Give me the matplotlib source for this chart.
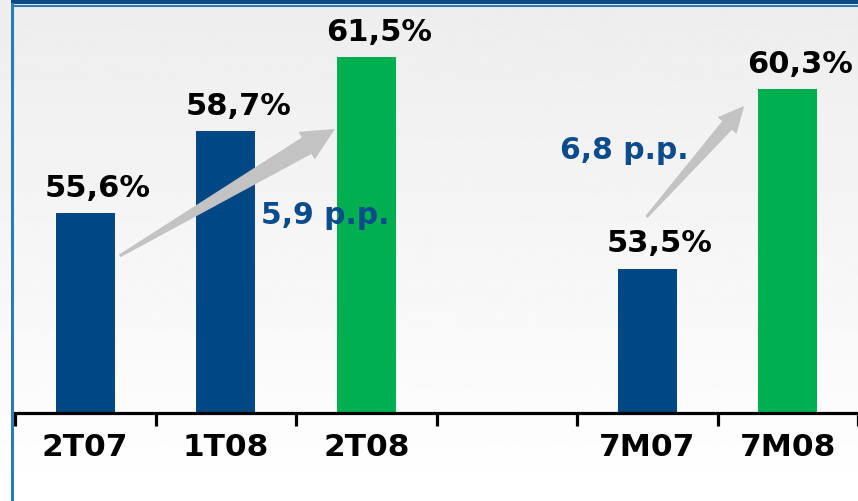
import numpy as np
import matplotlib.pyplot as plt
from matplotlib.patches import Polygon, Rectangle
from matplotlib.lines import Line2D
from matplotlib.transforms import IdentityTransform

categories = ['2T07', '1T08', '2T08', '', '7M07', '7M08']
values = [55.6, 58.7, 61.5, None, 53.5, 60.3]
value_labels = ['55,6%', '58,7%', '61,5%', '', '53,5%', '60,3%']
bar_colors = ['#004884', '#004884', '#00b050', None, '#004884', '#00b050']

# growth arrows: (start x, start y, end x, end y) in data units, and their labels
arrows = [(0.24, 53.98, 1.76, 58.78), (3.96, 55.45, 4.65, 59.65)]
arrow_labels = ['5,9 p.p.', '6,8 p.p.']
arrow_label_pos = [(1.25, 55.56), (3.38, 58.02)]
# head length, head width, tail width, shaft width (pixels)
arrow_shapes = [(33, 32, 3, 19), (26, 25, 3, 13)]

TXT_BLUE = '#0c4c8c'
BASE = 48.04


def arrow_poly(ax, x0, y0, x1, y1, hl, hw, tw, sw):
    p0 = ax.transData.transform((x0, y0))
    p1 = ax.transData.transform((x1, y1))
    d = p1 - p0
    L = np.hypot(*d)
    u = d / L
    n = np.array([-u[1], u[0]])
    hb = p1 - u * hl
    pts = [p0 + n * tw / 2, hb + n * sw / 2, hb + n * hw / 2, p1,
           hb - n * hw / 2, hb - n * sw / 2, p0 - n * tw / 2]
    return Polygon(pts, closed=True, transform=IdentityTransform(),
                   facecolor='#c3c3c3', edgecolor='none', zorder=3)


def plot_chart():
    fig = plt.figure(figsize=(8.58, 5.02), dpi=100)

    # background gradient, light gray at top to white at bottom
    bg = fig.add_axes([0, 0, 1, 1], zorder=-10)
    grad = np.linspace(0.93, 1.0, 256).reshape(-1, 1)
    bg.imshow(grad, aspect='auto', cmap='gray', vmin=0, vmax=1,
              extent=[0, 1, 0, 1], origin='upper')
    bg.set_xlim(0, 1)
    bg.set_ylim(0, 1)
    bg.axis('off')

    # frame lines at top and left
    fig.add_artist(Rectangle((11 / 858, 1 - 5 / 502), 1, 5 / 502,
                             transform=fig.transFigure, color='#0a4a86', lw=0))
    fig.add_artist(Line2D([12.5 / 858, 1], [1 - 6.5 / 502, 1 - 6.5 / 502],
                          transform=fig.transFigure, color='#2a7db2', lw=1.5))
    fig.add_artist(Line2D([12 / 858, 12 / 858], [0, 1 - 5 / 502],
                          transform=fig.transFigure, color='#2a7db2', lw=2.2))

    ax = fig.add_axes([15 / 858, 88 / 502, 843 / 858, 414 / 502])
    ax.patch.set_alpha(0)
    ax.set_xlim(-0.5, -0.5 + 843 / 141.6)
    ax.set_ylim(BASE, BASE + 414 / 26.45)

    x = np.arange(len(categories))
    for i in range(len(categories)):
        if values[i] is None:
            continue
        ax.bar(x[i], values[i] - BASE, bottom=BASE, width=0.42,
               color=bar_colors[i])
        ax.annotate(value_labels[i], (x[i], values[i]), xytext=(9, 8),
                    textcoords='offset points', ha='center', va='bottom',
                    fontsize=22, fontweight='bold', color='black')

    for (x0, y0, x1, y1), shp, lab, (lx, ly) in zip(arrows, arrow_shapes,
                                                    arrow_labels, arrow_label_pos):
        ax.add_patch(arrow_poly(ax, x0, y0, x1, y1, *shp))
        ax.text(lx, ly, lab, ha='left', va='center', fontsize=21.5,
                fontweight='bold', color=TXT_BLUE, zorder=4)

    for s in ['top', 'right', 'left']:
        ax.spines[s].set_visible(False)
    ax.spines['bottom'].set_linewidth(2.3)
    ax.set_yticks([])

    ax.set_xticks(x)
    ax.set_xticklabels(categories, fontsize=22.5, fontweight='bold')
    ax.tick_params(axis='x', which='major', length=0, pad=14)
    ax.set_xticks(np.arange(-0.5, len(categories), 1.0), minor=True)
    ax.tick_params(axis='x', which='minor', length=9, width=2.3, direction='out')

    fig.savefig('out.png', dpi=100)


def main():
    plot_chart()


if __name__ == "__main__":
    main()
